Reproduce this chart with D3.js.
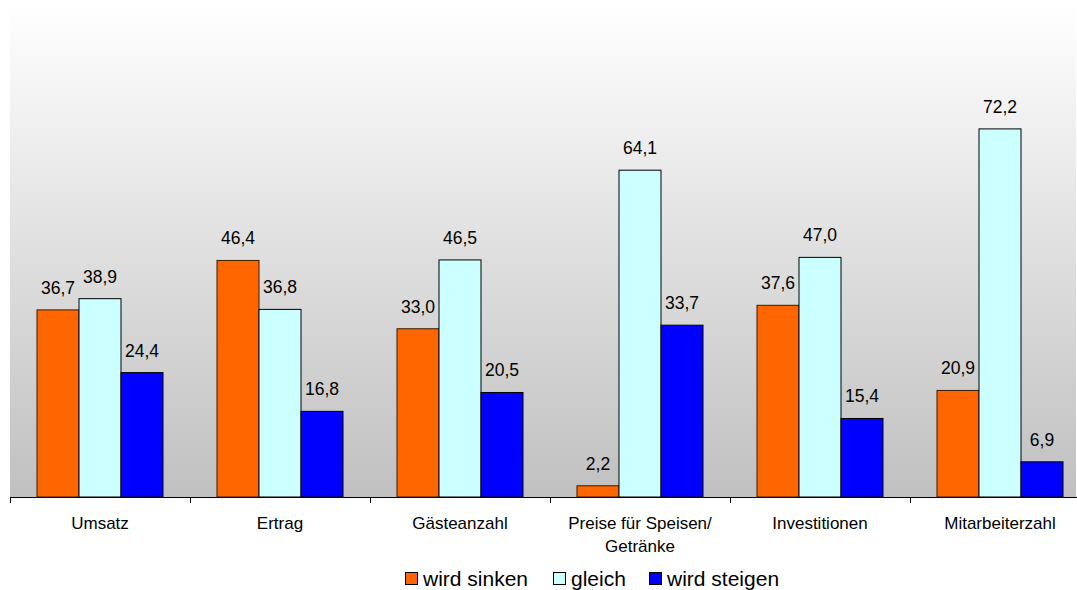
<!DOCTYPE html>
<html><head><meta charset="utf-8">
<script src="https://cdn.jsdelivr.net/npm/d3@7"></script>
<style>body{margin:0;background:#fff}svg{display:block}text{font-family:"Liberation Sans",Arial,sans-serif;fill:#000}</style>
</head><body>
<svg id="c" width="1077" height="590"></svg>
<script>
const categories = ["Umsatz","Ertrag","Gästeanzahl","Preise für Speisen/\nGetränke","Investitionen","Mitarbeiterzahl"];
const seriesNames = ["wird sinken","gleich","wird steigen"];
const sinken = [36.7,46.4,33.0,2.2,37.6,20.9];
const gleich = [38.9,36.8,46.5,64.1,47.0,72.2];
const steigen = [24.4,16.8,20.5,33.7,15.4,6.9];
const colors = ["#FF6600","#CCFFFF","#0000FF"];
const series = [sinken, gleich, steigen];

const svg = d3.select("#c");
const plotL=10, plotR=1076, plotT=4, plotB=497;
const defs = svg.append("defs");
const grad = defs.append("linearGradient").attr("id","bg").attr("x1",0).attr("y1",0).attr("x2",0).attr("y2",1);
grad.append("stop").attr("offset","0%").attr("stop-color","#FFFFFF");
grad.append("stop").attr("offset","100%").attr("stop-color","#C0C0C0");
svg.append("rect").attr("x",plotL).attr("y",plotT).attr("width",plotR-plotL).attr("height",plotB-plotT).attr("fill","url(#bg)");

const x0 = d3.scaleBand().domain(categories).range([10,1090]).paddingInner(0).paddingOuter(0);
const x1 = d3.scaleBand().domain([0,1,2]).range([27,153]);
const y = d3.scaleLinear().domain([0,96.7]).range([plotB,plotT]);
const fmt = v => v.toFixed(1).replace(".",",");

categories.forEach((c,ci)=>{
  series.forEach((s,si)=>{
    const xx = x0(c)+x1(si);
    svg.append("rect").attr("x",xx).attr("y",y(s[ci])).attr("width",x1.bandwidth()).attr("height",plotB-y(s[ci]))
      .attr("fill",colors[si]).attr("stroke",si==0?"#3a1a00":"#000").attr("stroke-width",1);
    svg.append("text").attr("x",xx+x1.bandwidth()/2).attr("y",y(s[ci])-16).attr("text-anchor","middle")
      .attr("font-size",17.5).text(fmt(s[ci]));
  });
});

// axis
svg.append("line").attr("x1",plotL).attr("x2",1077).attr("y1",plotB+0.5).attr("y2",plotB+0.5).attr("stroke","#000");
categories.forEach(c=>{
  const t0=x0(c);
  svg.append("line").attr("x1",t0+0.5).attr("x2",t0+0.5).attr("y1",plotB).attr("y2",plotB+6).attr("stroke","#000");
});
categories.forEach(c=>{
  const lines=c.split("\n");
  const cx=x0(c)+x0.bandwidth()/2;
  const t=svg.append("text").attr("x",cx).attr("y",529).attr("text-anchor","middle").attr("font-size",17);
  lines.forEach((l,i)=>t.append("tspan").attr("x",cx).attr("dy",i?23:0).text(l));
});

// legend
const legX=[405,553,649];
seriesNames.forEach((n,i)=>{
  svg.append("rect").attr("x",legX[i]+0.5).attr("y",572.5).attr("width",12).attr("height",12).attr("fill",colors[i]).attr("stroke","#000");
  svg.append("text").attr("x",legX[i]+18).attr("y",586).attr("font-size",21).text(n);
});
</script>
</body></html>
